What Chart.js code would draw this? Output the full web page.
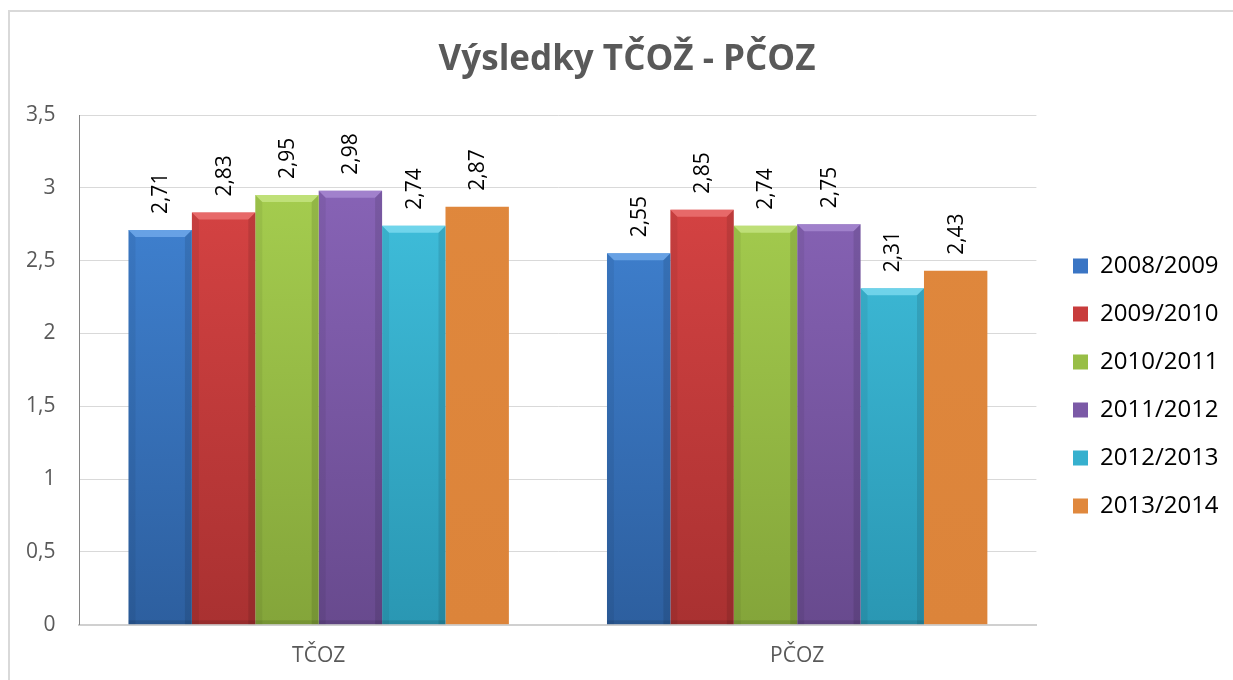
<!DOCTYPE html>
<html>
<head>
<meta charset="utf-8">
<script src="https://cdn.jsdelivr.net/npm/chart.js@4/dist/chart.umd.min.js"></script>
<style>
  html, body { margin: 0; padding: 0; background: #fff; }
  #wrap { position: relative; width: 1233px; height: 680px; }
</style>
</head>
<body>
<div id="wrap"><canvas id="c" width="1233" height="680"></canvas></div>
<script>
// ---- data ----
const categories = ['TČOZ', 'PČOZ'];
const seriesNames = ['2008/2009', '2009/2010', '2010/2011', '2011/2012', '2012/2013', '2013/2014'];
const s2008 = [2.71, 2.55];
const s2009 = [2.83, 2.85];
const s2010 = [2.95, 2.74];
const s2011 = [2.98, 2.75];
const s2012 = [2.74, 2.31];
const s2013 = [2.87, 2.43];
const yTickLabels = ['0', '0,5', '1', '1,5', '2', '2,5', '3', '3,5'];
const chartTitle = 'Výsledky TČOŽ - PČOZ';

// ---- styles ----
const palette = [
  { top: '#4388da', bottom: '#2d5f9f', bevel: '#79b0f0', flat: '#3a75c4', bev: true },
  { top: '#dd4646', bottom: '#a93131', bevel: '#f07a7a', flat: '#c83c3c', bev: true },
  { top: '#aad352', bottom: '#84a53a', bevel: '#cbe88a', flat: '#98be46', bev: true },
  { top: '#8c67bc', bottom: '#684a8e', bevel: '#ad8fd6', flat: '#7b59a6', bev: true },
  { top: '#43c5e2', bottom: '#2a97b3', bevel: '#86e0f4', flat: '#36b0ce', bev: true },
  { top: '#e0883d', bottom: '#dc843a', bevel: '#e0883d', flat: '#e0883d', bev: false }
];
const seriesData = [s2008, s2009, s2010, s2011, s2012, s2013];
const FONT = "'Open Sans', 'DejaVu Sans', sans-serif";

function faceColor(i) {
  return function (ctx) {
    const chart = ctx.chart;
    const area = chart.chartArea;
    if (!area) return palette[i].flat;
    const g = chart.ctx.createLinearGradient(0, area.top, 0, area.bottom);
    g.addColorStop(0, palette[i].top);
    g.addColorStop(1, palette[i].bottom);
    return g;
  };
}

const borderPlugin = {
  id: 'outerBorder',
  beforeDraw(chart) {
    const c = chart.ctx;
    c.save();
    c.fillStyle = '#ffffff';
    c.fillRect(0, 0, chart.width, chart.height);
    c.strokeStyle = '#d9d9d9';
    c.lineWidth = 2;
    c.strokeRect(9, 11, chart.width + 50, chart.height + 50);
    c.restore();
  }
};

const shiftPlugin = {
  id: 'shiftBoxes',
  afterLayout(chart) {
    const lg = chart.legend;
    if (lg) {
      const dx = 1049 - lg.left;
      lg.left += dx; lg.right += dx;
      const h = lg.bottom - lg.top;
      const newTop = (772 - h) / 2;
      const dy = newTop - lg.top;
      lg.top += dy; lg.bottom += dy;
    }
    const t = chart.titleBlock;
    if (t) {
      const cx = (t.left + t.right) / 2;
      const d = 627 - cx;
      t.left += d; t.right += d;
    }
  }
};

const bevelPlugin = {
  id: 'bevel',
  afterDatasetsDraw(chart) {
    const c = chart.ctx;
    chart.data.datasets.forEach((ds, di) => {
      if (!palette[di].bev) return;
      const meta = chart.getDatasetMeta(di);
      meta.data.forEach((bar) => {
        const p = bar.getProps(['x', 'y', 'base', 'width'], true);
        const l = p.x - p.width / 2, r = p.x + p.width / 2, t = p.y, b = p.base;
        const d = 7;
        c.save();
        c.beginPath();
        c.moveTo(l, t); c.lineTo(r, t); c.lineTo(r - d, t + d); c.lineTo(l + d, t + d); c.closePath();
        c.fillStyle = palette[di].bevel;
        c.globalAlpha = 0.7;
        c.fill();
        c.globalAlpha = 1;
        c.beginPath();
        c.moveTo(l, t); c.lineTo(l + d, t + d); c.lineTo(l + d, b); c.lineTo(l, b); c.closePath();
        c.fillStyle = 'rgba(0,0,0,0.06)';
        c.fill();
        c.beginPath();
        c.moveTo(r, t); c.lineTo(r - d, t + d); c.lineTo(r - d, b); c.lineTo(r, b); c.closePath();
        c.fillStyle = 'rgba(0,0,0,0.10)';
        c.fill();
        c.fillStyle = 'rgba(0,0,0,0.10)';
        c.fillRect(l, b - 4, r - l, 4);
        c.restore();
      });
    });
  }
};

const labelPlugin = {
  id: 'valueLabels',
  afterDatasetsDraw(chart) {
    const c = chart.ctx;
    c.save();
    c.font = "21px " + FONT;
    c.fillStyle = '#000000';
    c.textAlign = 'left';
    c.textBaseline = 'middle';
    chart.data.datasets.forEach((ds, di) => {
      const meta = chart.getDatasetMeta(di);
      meta.data.forEach((bar, i) => {
        const p = bar.getProps(['x', 'y'], true);
        const txt = String(ds.data[i]).replace('.', ',');
        c.save();
        c.translate(p.x + 1, p.y - 16);
        c.rotate(-Math.PI / 2);
        c.fillText(txt, 0, 0);
        c.restore();
      });
    });
    c.restore();
  }
};

new Chart(document.getElementById('c'), {
  type: 'bar',
  data: {
    labels: categories,
    datasets: seriesNames.map((name, i) => ({
      label: name,
      data: seriesData[i],
      backgroundColor: faceColor(i),
      borderWidth: 0,
      categoryPercentage: 0.795,
      barPercentage: 1.0
    }))
  },
  options: {
    responsive: false,
    animation: false,
    devicePixelRatio: 1,
    layout: { padding: { left: 2, right: 17, top: 0, bottom: -8 } },
    plugins: {
      title: {
        display: true,
        text: chartTitle,
        color: '#595959',
        font: { family: FONT, size: 35, weight: 'bold' },
        padding: { top: 39, bottom: 34 }
      },
      legend: {
        position: 'right',
        align: 'center',
        labels: {
          generateLabels(chart) {
            return chart.data.datasets.map((ds, i) => ({
              text: ds.label,
              fillStyle: palette[i].flat,
              strokeStyle: palette[i].flat,
              lineWidth: 0,
              hidden: false,
              datasetIndex: i,
              fontColor: '#000000'
            }));
          },
          color: '#000000',
          font: { family: FONT, size: 24 },
          boxWidth: 15,
          boxHeight: 15,
          padding: 24
        }
      },
      tooltip: { enabled: false }
    },
    scales: {
      x: {
        grid: { display: false, drawTicks: false },
        border: { display: true, color: '#d0d0d0', width: 2 },
        ticks: { color: '#595959', font: { family: FONT, size: 21 }, padding: 19 }
      },
      y: {
        min: 0,
        max: 3.5,
        grid: { color: '#d9d9d9', lineWidth: 1, drawTicks: false },
        border: { display: true, color: '#868686', width: 1 },
        ticks: {
          stepSize: 0.5,
          color: '#595959',
          font: { family: FONT, size: 21 },
          padding: 24,
          callback: (v, idx) => yTickLabels[idx]
        }
      }
    }
  },
  plugins: [borderPlugin, shiftPlugin, bevelPlugin, labelPlugin]
});
</script>
</body>
</html>
